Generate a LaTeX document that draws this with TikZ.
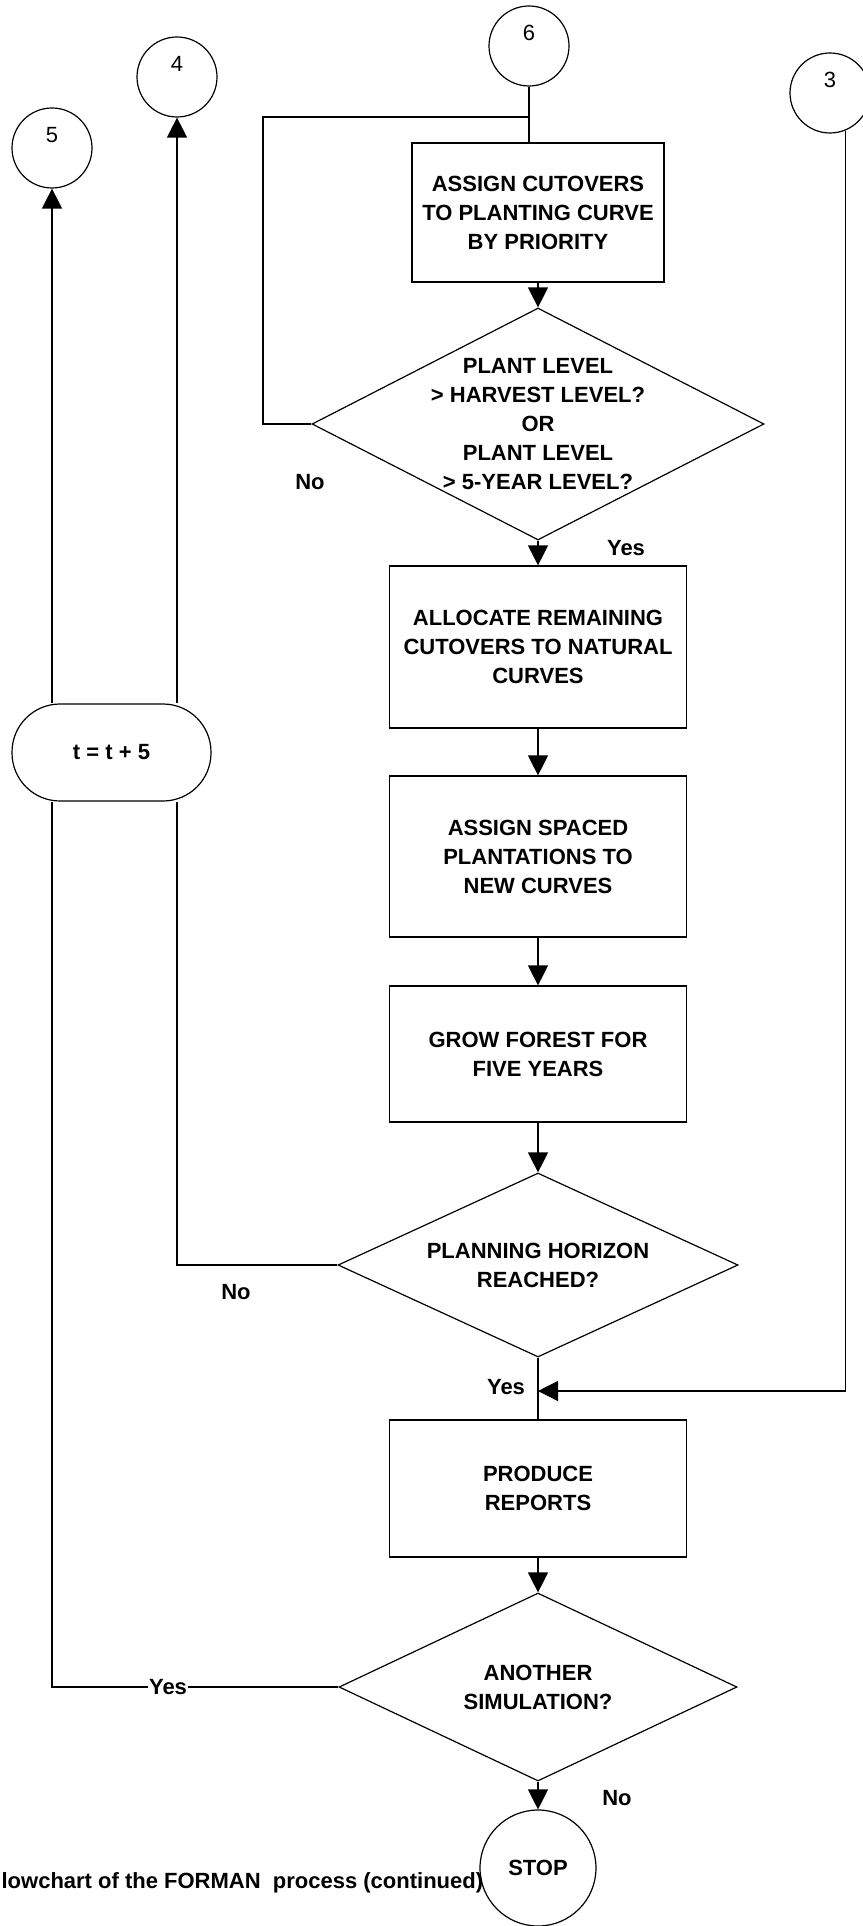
\documentclass[tikz,border=0pt]{standalone}
\usepackage{fontspec}
\setmainfont{Liberation Sans}
\usetikzlibrary{shapes.geometric,arrows.meta,calc}
\begin{document}
\begin{tikzpicture}[x=1pt,y=-1pt, line width=1.2pt,
  every node/.style={font=\fontsize{22}{29}\selectfont\bfseries, inner sep=0pt},
  procbox/.style={draw, rectangle, align=center, minimum width=297pt},
  decbox/.style={draw, diamond, inner sep=0pt},
  conn/.style={draw, circle, minimum size=80pt},
  termbox/.style={draw, rectangle, rounded corners=48pt, minimum width=199pt, minimum height=97pt},
  arr/.style={-{Triangle[length=20pt,width=20pt]}},
  numtxt/.style={font=\fontsize{22}{29}\selectfont}
]
\path[use as bounding box] (0,0) rectangle (862,1926);

% connectors (circles)
\node[conn] (c6) at (529,46) {};
\node[numtxt] (n6) at ($(c6.center)+(0,-13)$) {6};
\node[conn] (c4) at (177,77) {};
\node[numtxt] (n4) at ($(c4.center)+(0,-13)$) {4};
\node[conn] (c5) at (52,148) {};
\node[numtxt] (n5) at ($(c5.center)+(0,-13)$) {5};
\node[conn] (c3) at (830,93) {};
\node[numtxt] (n3) at ($(c3.center)+(0,-13)$) {3};

% process boxes and decisions
\node[procbox, minimum width=252pt, minimum height=139pt] (b1) at (538,212.5)
  {ASSIGN CUTOVERS\\TO PLANTING CURVE\\BY PRIORITY};
\node[decbox, minimum width=452pt, minimum height=232pt] (d1) at (538,424) {};
\node[align=center] (d1t) at (d1.center)
  {PLANT LEVEL\\> HARVEST LEVEL?\\OR\\PLANT LEVEL\\> 5-YEAR LEVEL?};
\node[procbox, minimum height=162pt] (b2) at (538,647)
  {ALLOCATE REMAINING\\CUTOVERS TO NATURAL\\CURVES};
\node[procbox, minimum height=161pt] (b3) at (538,856.5)
  {ASSIGN SPACED\\PLANTATIONS TO\\NEW CURVES};
\node[procbox, minimum height=136pt] (b4) at (538,1054)
  {GROW FOREST FOR\\FIVE YEARS};
\node[decbox, minimum width=400pt, minimum height=184pt] (d2) at (538,1265) {};
\node[align=center] (d2t) at (d2.center) {PLANNING HORIZON\\REACHED?};
\node[procbox, minimum height=137pt] (b5) at (538,1488.5) {PRODUCE\\REPORTS};
\node[decbox, minimum width=398pt, minimum height=188pt] (d3) at (538,1687) {};
\node[align=center] (d3t) at (d3.center) {ANOTHER\\SIMULATION?};
\node[draw, circle, minimum size=116pt] (stop) at (538,1868) {STOP};
\node[termbox] (term) at (111.5,752.5) {t = t + 5};

% junction coordinates
\coordinate (j6) at (529,117);
\coordinate (lp) at (263,117);
\coordinate (j3) at (538,1391);

% connectors
\draw (c6.south) -- (c6.south |- b1.north);
\draw (d1.west) -- (d1.west -| lp) -- (lp) -- (j6);
\draw[arr] (b1.south) -- (d1.north);
\draw[arr] (d1.south) -- (b2.north);
\draw[arr] (b2.south) -- (b3.north);
\draw[arr] (b3.south) -- (b4.north);
\draw[arr] (b4.south) -- (d2.north);
\draw (d2.south) -- (b5.north);
\draw[arr] (c3.-68) |- (j3);
\draw[arr] (b5.south) -- (d3.north);
\draw[arr] (d3.south) -- (stop.north);
\draw (d2.west) -| (c4 |- term.south);
\draw (d3.west) -| (c5 |- term.south);
\draw[arr] (c4 |- term.north) -- (c4.south);
\draw[arr] (c5 |- term.north) -- (c5.south);

% labels
\node (l1) at (310,482) {No};
\node (l2) at (626,548) {Yes};
\node (l3) at (236,1292) {No};
\node (l4) at (506,1387) {Yes};
\node[fill=white, inner xsep=1pt] (l5) at (168,1687) {Yes};
\node (l6) at (617,1798) {No};

% caption
\node[anchor=west] (cap) at (1,1883) {lowchart of the FORMAN\ \ process (continued)};
\end{tikzpicture}
\end{document}
